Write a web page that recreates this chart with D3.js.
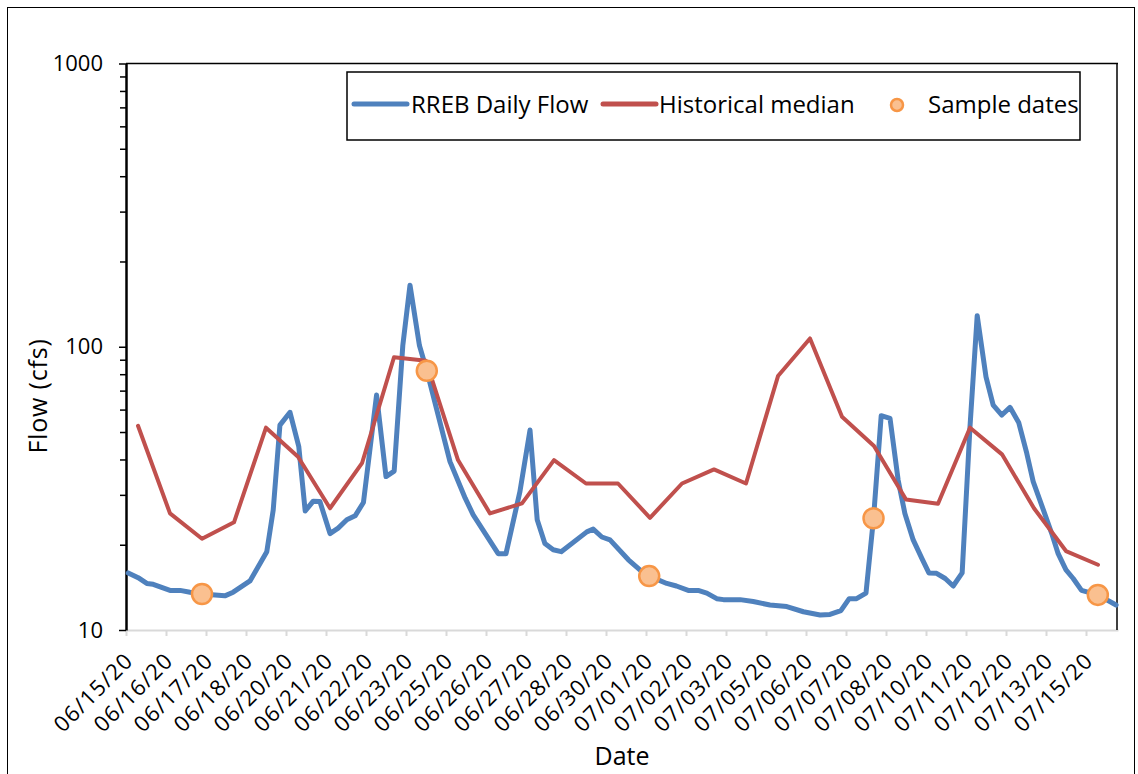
<!DOCTYPE html>
<html>
<head>
<meta charset="utf-8">
<script src="https://cdn.jsdelivr.net/npm/d3@7"></script>
<style>
  body { margin: 0; background: #fff; }
  text { font-family: "Open Sans", Lato, sans-serif; fill: #000; }
</style>
</head>
<body>
<div id="chart"></div>
<script>
var W = 1138, H = 774
var plotLeft = 126, plotRight = 1118, plotTop = 63.5, plotBottom = 630

// days since 06/15/20 00:00
var flowDay = [0.07,0.38,0.65,0.85,1.375,1.69,2.0,2.375,3.09,3.35,3.875,4.4,4.6,4.81,5.125,5.4,5.6,5.85,6.06,6.375,6.63,6.9,7.16,7.42,7.83,8.125,8.38,8.65,8.875,9.17,9.4,10.125,
  10.6,10.85,11.63,11.875,12.31,12.625,12.85,13.09,13.35,13.6,14.4,14.6,14.87,15.125,15.7,16.06,16.35,16.9,17.2,17.57,17.88,18.15,18.46,18.67,19.19,19.6,20.125,
  20.65,21.17,21.69,22.0,22.34,22.6,22.83,23.125,23.36,23.6,23.875,24.13,24.34,24.6,24.87,25.09,25.33,25.6,25.85,26.13,26.375,26.6,26.875,27.1,27.37,27.625,27.9,28.15,28.35,28.67,28.93,29.13,29.375,29.6,29.86,30.37,30.94]
var flowCfs = [15.9,15.3,14.6,14.5,13.8,13.8,13.6,13.4,13.2,13.6,14.9,18.9,26.5,52.9,58.7,44.4,26.3,28.5,28.4,21.9,22.9,24.5,25.3,28.2,67.5,34.8,36.4,101,165,101,82.3,39.3,
  29.2,25.5,18.6,18.6,30.8,50.8,24.5,20.2,19.2,18.9,22.2,22.7,21.3,20.8,17.7,16.3,15.5,14.6,14.3,13.8,13.8,13.5,12.9,12.8,12.8,12.6,12.25,
  12.1,11.6,11.3,11.35,11.7,12.9,12.9,13.5,24.8,57.1,55.9,33.8,25.8,20.8,17.9,15.9,15.85,15.2,14.3,15.9,52.2,128.7,78.3,62.2,57.4,61.1,53.9,42.0,33.4,26.5,21.9,18.6,16.3,15.2,13.8,13.3,12.25]

var medianDay = d3.range(31).map(function(i){ return i + 0.375 })
var medianCfs = [52.6,25.8,21,24,51.8,40.9,26.9,38.8,91.8,89.2,39.8,25.8,28,39.8,32.9,32.9,24.9,32.9,36.9,32.9,78.8,107,56.6,44.6,28.9,27.9,51.8,41.7,26.9,19,17]

var sampleDay = [2.375, 9.4, 16.35, 23.36, 30.37]
var sampleCfs = [13.4, 82.3, 15.5, 24.8, 13.3]

var tickDay = d3.range(25).map(function(i){ return i * 1.25 })
var tickLabels = ["06/15/20","06/16/20","06/17/20","06/18/20","06/20/20","06/21/20","06/22/20","06/23/20","06/25/20","06/26/20","06/27/20","06/28/20","06/30/20",
  "07/01/20","07/02/20","07/03/20","07/05/20","07/06/20","07/07/20","07/08/20","07/10/20","07/11/20","07/12/20","07/13/20","07/15/20"]

var blue = "#4F81BD", red = "#C0504D"

var x = d3.scaleLinear().domain([0, 31]).range([plotLeft, plotRight])
var y = d3.scaleLog().domain([10, 1000]).range([plotBottom, plotTop])

var svg = d3.select("#chart").append("svg").attr("width", W).attr("height", H)

svg.append("rect").attr("x", 7.5).attr("y", 7.5).attr("width", 1127).attr("height", 820)
  .attr("fill", "#fff").attr("stroke", "#000").attr("stroke-width", 1)

// x axis (light grey)
var xAxis = svg.append("g").attr("transform", "translate(0," + plotBottom + ")")
  .call(d3.axisBottom(x).tickValues(tickDay).tickSize(6).tickSizeOuter(0).tickFormat(function(d, i){ return tickLabels[i] }))
xAxis.select(".domain").attr("stroke", "#d9d9d9").attr("stroke-width", 2)
xAxis.selectAll(".tick line").attr("stroke", "#d9d9d9").attr("stroke-width", 2)
xAxis.selectAll(".tick text")
  .attr("font-size", 22)
  .attr("letter-spacing", 1.2)
  .attr("text-anchor", "end")
  .attr("dy", null).attr("y", 0).attr("x", 0)
  .attr("transform", "translate(8,32) rotate(-45)")

// frame top / right
svg.append("line").attr("x1", plotLeft).attr("x2", plotRight).attr("y1", plotTop).attr("y2", plotTop).attr("stroke", "#000").attr("stroke-width", 1.5)
svg.append("line").attr("x1", plotRight - 1).attr("x2", plotRight - 1).attr("y1", plotTop).attr("y2", plotBottom).attr("stroke", "#000").attr("stroke-width", 1.5)

// y axis
var minor = []
;[10, 100].forEach(function(b){ for (var k = 2; k <= 9; k++) minor.push(b * k) })
var yMinor = svg.append("g").attr("transform", "translate(" + plotLeft + ",0)")
  .call(d3.axisLeft(y).tickValues(minor).tickSize(6).tickFormat(""))
yMinor.select(".domain").remove()
yMinor.selectAll(".tick line").attr("stroke", "#000").attr("stroke-width", 1.5)

var yAxis = svg.append("g").attr("transform", "translate(" + plotLeft + ",0)")
  .call(d3.axisLeft(y).tickValues([10, 100, 1000]).tickSize(7).tickSizeOuter(0).tickFormat(d3.format("d")))
yAxis.select(".domain").attr("stroke", "#000").attr("stroke-width", 2.5)
yAxis.selectAll(".tick line").attr("stroke", "#000").attr("stroke-width", 1.5)
yAxis.selectAll(".tick text").attr("font-size", 22).attr("x", -23)

// lines
var line = d3.line().x(function(d){ return x(d[0]) }).y(function(d){ return y(d[1]) })

svg.append("path").datum(d3.zip(flowDay, flowCfs))
  .attr("d", line).attr("fill", "none").attr("stroke", blue).attr("stroke-width", 5)
  .attr("stroke-linejoin", "round").attr("stroke-linecap", "round")

svg.append("path").datum(d3.zip(medianDay, medianCfs))
  .attr("d", line).attr("fill", "none").attr("stroke", red).attr("stroke-width", 4)
  .attr("stroke-linejoin", "round").attr("stroke-linecap", "round")

svg.selectAll(".sample").data(d3.zip(sampleDay, sampleCfs)).enter().append("circle")
  .attr("class", "sample")
  .attr("cx", function(d){ return x(d[0]) }).attr("cy", function(d){ return y(d[1]) })
  .attr("r", 10).attr("fill", "#FAC090").attr("stroke", "#F79646").attr("stroke-width", 2.5)

// axis titles
svg.append("text").attr("x", 622).attr("y", 765).attr("text-anchor", "middle").attr("font-size", 25).text("Date")
svg.append("text").attr("transform", "translate(47,396) rotate(-90)").attr("text-anchor", "middle")
  .attr("font-size", 25).attr("letter-spacing", 0.8).text("Flow (cfs)")

// legend
var lg = svg.append("g")
lg.append("rect").attr("x", 347).attr("y", 72).attr("width", 733).attr("height", 68)
  .attr("fill", "#fff").attr("stroke", "#000").attr("stroke-width", 1.5)
lg.append("line").attr("x1", 354).attr("x2", 407).attr("y1", 104).attr("y2", 104)
  .attr("stroke", blue).attr("stroke-width", 5).attr("stroke-linecap", "round")
lg.append("text").attr("x", 411).attr("y", 113).attr("font-size", 24).text("RREB Daily Flow")
lg.append("line").attr("x1", 603).attr("x2", 656).attr("y1", 104).attr("y2", 104)
  .attr("stroke", red).attr("stroke-width", 5).attr("stroke-linecap", "round")
lg.append("text").attr("x", 659).attr("y", 113).attr("font-size", 24).text("Historical median")
lg.append("circle").attr("cx", 897).attr("cy", 105).attr("r", 6)
  .attr("fill", "#FAC090").attr("stroke", "#F79646").attr("stroke-width", 2.5)
lg.append("text").attr("x", 928).attr("y", 113).attr("font-size", 24).text("Sample dates")
</script>
</body>
</html>
